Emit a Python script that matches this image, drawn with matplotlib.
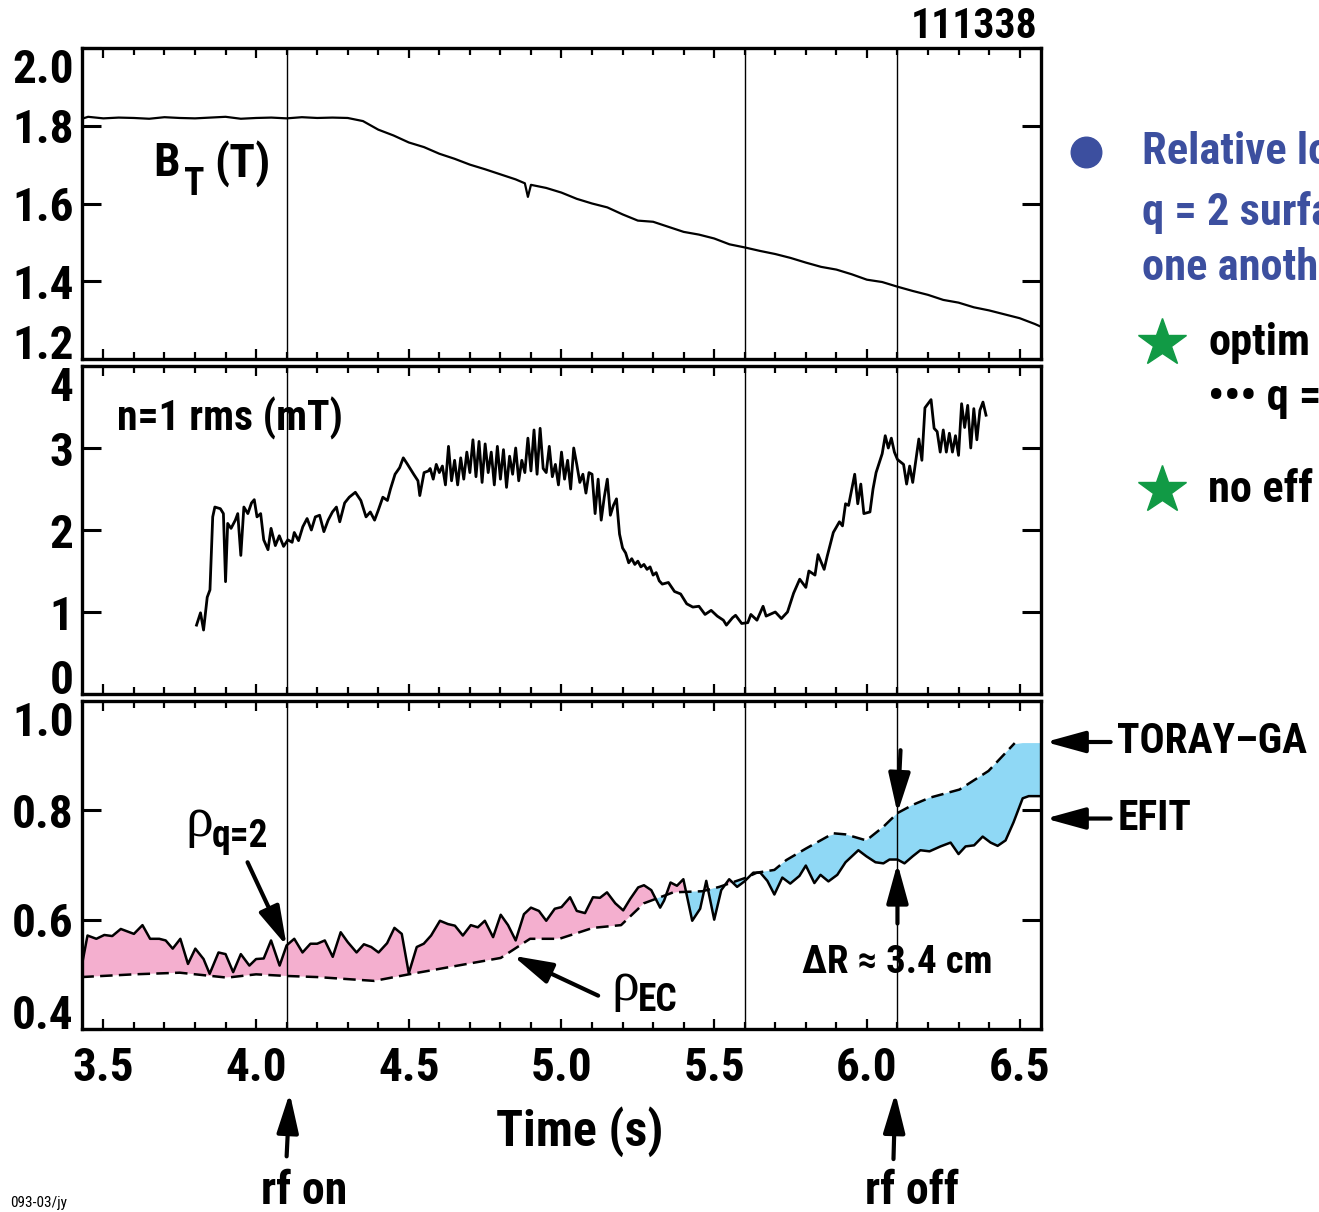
import numpy as np
import matplotlib
matplotlib.use('Agg')
from matplotlib import pyplot as plt
from matplotlib import font_manager

# pick a condensed bold sans if one is installed, else plain Liberation Sans
prefer = [('LiberationSansNarrow-Bold', 1.0), ('RobotoCondensed-Bold', 1.0),
          ('NotoSans-CondensedBold', 0.95), ('OpenSans-CondensedBold', 0.95),
          ('DejaVuSansCondensed-Bold', 0.88)]
narrow, k = None, 0.86
for key, kk in prefer:
    for f in font_manager.fontManager.ttflist:
        if key in f.fname.replace(' ', ''):
            narrow, k = f, kk
            break
    if narrow is not None:
        break
if narrow is not None:
    plt.rcParams['font.family'] = [narrow.name, 'DejaVu Sans']
    plt.rcParams['font.stretch'] = narrow.stretch
else:
    plt.rcParams['font.family'] = ['Liberation Sans', 'DejaVu Sans']
plt.rcParams['font.weight'] = 'bold'

shot = '111338'
t_marks = [4.1, 5.6, 6.1]

# toroidal field B_T (T)
bt_t = [3.43, 3.45, 3.50, 3.55, 3.60, 3.65, 3.70, 3.75, 3.80, 3.85, 3.90, 3.95,
        4.00, 4.05, 4.10, 4.15, 4.20, 4.25, 4.30, 4.35, 4.40, 4.45, 4.50, 4.55,
        4.60, 4.65, 4.70, 4.75, 4.80, 4.85, 4.88, 4.89, 4.90, 4.95, 5.00, 5.05,
        5.10, 5.15, 5.20, 5.25, 5.30, 5.35, 5.40, 5.45, 5.50, 5.55, 5.60, 5.65,
        5.70, 5.75, 5.80, 5.85, 5.90, 5.95, 6.00, 6.05, 6.10, 6.15, 6.20, 6.25,
        6.30, 6.35, 6.40, 6.45, 6.50, 6.55, 6.57]
bt_v = [1.818, 1.823, 1.819, 1.821, 1.820, 1.818, 1.822, 1.820, 1.819, 1.821, 1.823, 1.818,
        1.820, 1.821, 1.819, 1.822, 1.820, 1.821, 1.820, 1.812, 1.790, 1.775, 1.757, 1.745,
        1.728, 1.715, 1.700, 1.688, 1.675, 1.662, 1.652, 1.617, 1.648, 1.640, 1.628, 1.612,
        1.600, 1.590, 1.572, 1.556, 1.553, 1.540, 1.527, 1.520, 1.510, 1.495, 1.487, 1.478,
        1.470, 1.460, 1.448, 1.437, 1.430, 1.418, 1.404, 1.398, 1.386, 1.375, 1.365, 1.352,
        1.345, 1.333, 1.325, 1.315, 1.305, 1.290, 1.283]

# n=1 rms amplitude (mT)
n1_t = [3.805, 3.818, 3.828, 3.840, 3.849, 3.858, 3.865, 3.883, 3.893, 3.900, 3.907, 3.918,
        3.932, 3.940, 3.950, 3.960, 3.973, 3.985, 3.994, 4.003, 4.015, 4.025, 4.039, 4.049,
        4.063, 4.076, 4.090, 4.104, 4.118, 4.125, 4.139, 4.153, 4.167, 4.181, 4.194, 4.208,
        4.222, 4.236, 4.250, 4.263, 4.274, 4.290, 4.305, 4.325, 4.343, 4.360, 4.374, 4.388,
        4.400, 4.415, 4.430, 4.440, 4.455, 4.470, 4.482, 4.496, 4.516, 4.530, 4.536, 4.550,
        4.564, 4.57, 4.58, 4.59, 4.60, 4.61, 4.62, 4.63, 4.64, 4.65, 4.66, 4.67, 4.68,
        4.69, 4.70, 4.71, 4.72, 4.73, 4.74, 4.75, 4.76, 4.77, 4.78, 4.79, 4.80, 4.81,
        4.82, 4.83, 4.84, 4.85, 4.86, 4.87, 4.88, 4.89, 4.90, 4.91, 4.92, 4.93, 4.94,
        4.95, 4.96, 4.97, 4.98, 4.99, 5.00, 5.01, 5.02, 5.03, 5.04, 5.05, 5.06, 5.07,
        5.08, 5.09, 5.10, 5.11, 5.12, 5.13, 5.14, 5.15, 5.16, 5.17, 5.18, 5.19, 5.20,
        5.21, 5.22, 5.23, 5.24, 5.25, 5.26, 5.27, 5.28, 5.29, 5.30, 5.31, 5.32, 5.33,
        5.35, 5.37, 5.39, 5.41, 5.43, 5.45, 5.47, 5.49, 5.51, 5.53, 5.54, 5.56, 5.57,
        5.59, 5.61, 5.62, 5.64, 5.66, 5.67, 5.70, 5.72, 5.74, 5.76, 5.78, 5.80, 5.81,
        5.83, 5.84, 5.86, 5.87, 5.89, 5.91, 5.92, 5.93, 5.94, 5.96, 5.97, 5.98, 5.99,
        6.01, 6.02, 6.03, 6.05, 6.06, 6.07, 6.08, 6.09, 6.10, 6.12, 6.13, 6.14, 6.15,
        6.17, 6.18, 6.19, 6.21, 6.22, 6.23, 6.24, 6.25, 6.26, 6.27, 6.28, 6.29, 6.30,
        6.31, 6.32, 6.33, 6.34, 6.35, 6.36, 6.37, 6.38, 6.39]
n1_v = [0.84, 0.99, 0.78, 1.18, 1.27, 2.16, 2.28, 2.26, 2.20, 1.37, 2.08, 2.02,
        2.12, 2.20, 1.69, 2.28, 2.20, 2.33, 2.37, 2.16, 2.20, 1.88, 1.76, 2.02,
        1.81, 1.93, 1.80, 1.88, 1.85, 1.97, 1.87, 2.04, 2.14, 2.00, 2.16, 2.18,
        1.98, 2.12, 2.22, 2.28, 2.10, 2.33, 2.40, 2.46, 2.36, 2.16, 2.22, 2.12,
        2.24, 2.40, 2.36, 2.50, 2.68, 2.76, 2.88, 2.80, 2.68, 2.60, 2.42, 2.70,
        2.72, 2.75, 2.62, 2.80, 2.70, 2.78, 2.55, 3.02, 2.60, 2.85, 2.55, 2.88, 2.62,
        2.95, 2.70, 3.10, 2.65, 3.08, 2.58, 3.05, 2.70, 2.95, 2.55, 3.02, 2.62, 2.98,
        2.52, 2.90, 2.68, 3.00, 2.60, 2.85, 2.70, 3.12, 2.72, 3.22, 2.68, 3.24, 2.75,
        2.70, 3.02, 2.65, 2.80, 2.55, 2.95, 2.62, 2.85, 2.50, 3.00, 2.80, 2.58, 2.68,
        2.45, 2.70, 2.68, 2.20, 2.62, 2.12, 2.40, 2.62, 2.18, 2.30, 2.38, 1.95, 1.78,
        1.72, 1.60, 1.65, 1.58, 1.62, 1.55, 1.58, 1.52, 1.55, 1.45, 1.48, 1.38, 1.34,
        1.36, 1.25, 1.22, 1.10, 1.06, 1.07, 0.97, 1.02, 0.95, 0.90, 0.84, 0.93, 0.96,
        0.86, 0.87, 0.97, 0.90, 1.07, 0.95, 1.00, 0.92, 1.00, 1.23, 1.40, 1.30, 1.50,
        1.45, 1.70, 1.52, 1.68, 1.97, 2.10, 2.05, 2.32, 2.30, 2.68, 2.32, 2.56, 2.20,
        2.22, 2.50, 2.70, 2.93, 3.15, 3.00, 3.12, 2.95, 2.86, 2.80, 2.56, 2.78, 2.58,
        3.11, 2.85, 3.49, 3.59, 3.24, 3.20, 2.95, 3.22, 2.95, 3.18, 2.95, 3.15, 2.91,
        3.54, 3.25, 3.52, 3.00, 3.48, 3.10, 3.46, 3.56, 3.40]

# rho of q=2 surface (EFIT, solid)
efit_t = [3.428, 3.448, 3.477, 3.503, 3.529, 3.557, 3.600, 3.628, 3.653, 3.683, 3.704, 3.727,
          3.752, 3.777, 3.801, 3.828, 3.848, 3.877, 3.900, 3.925, 3.950, 3.978, 4.000, 4.025,
          4.049, 4.077, 4.100, 4.125, 4.152, 4.178, 4.200, 4.225, 4.251, 4.277, 4.300, 4.329,
          4.353, 4.377, 4.401, 4.429, 4.453, 4.477, 4.500, 4.526, 4.549, 4.573, 4.602, 4.628,
          4.651, 4.677, 4.703, 4.726, 4.749, 4.776, 4.801, 4.825, 4.850, 4.877, 4.900, 4.926,
          4.950, 4.978, 5.000, 5.028, 5.050, 5.077, 5.103, 5.126, 5.149, 5.176, 5.202, 5.225,
          5.251, 5.270, 5.294, 5.323, 5.336, 5.357, 5.378, 5.399, 5.428, 5.454, 5.474, 5.500,
          5.523, 5.549, 5.575, 5.599, 5.628, 5.651, 5.674, 5.697, 5.723, 5.749, 5.779, 5.800,
          5.828, 5.848, 5.874, 5.903, 5.930, 5.972, 5.998, 6.028, 6.054, 6.074, 6.100, 6.123,
          6.150, 6.175, 6.205, 6.241, 6.274, 6.300, 6.323, 6.351, 6.379, 6.405, 6.428, 6.454,
          6.480, 6.510, 6.530, 6.572]
efit_v = [0.512, 0.571, 0.565, 0.572, 0.570, 0.583, 0.574, 0.590, 0.565, 0.565, 0.562, 0.547,
          0.565, 0.519, 0.547, 0.528, 0.501, 0.540, 0.537, 0.504, 0.537, 0.516, 0.528, 0.529,
          0.562, 0.516, 0.553, 0.565, 0.540, 0.556, 0.556, 0.562, 0.532, 0.577, 0.559, 0.540,
          0.555, 0.550, 0.540, 0.557, 0.585, 0.574, 0.502, 0.550, 0.556, 0.571, 0.598, 0.592,
          0.589, 0.571, 0.590, 0.586, 0.598, 0.568, 0.609, 0.590, 0.562, 0.610, 0.622, 0.616,
          0.598, 0.620, 0.623, 0.641, 0.616, 0.612, 0.641, 0.640, 0.650, 0.630, 0.617, 0.638,
          0.659, 0.663, 0.654, 0.622, 0.635, 0.668, 0.662, 0.674, 0.598, 0.620, 0.671, 0.600,
          0.654, 0.674, 0.660, 0.670, 0.686, 0.686, 0.671, 0.646, 0.677, 0.666, 0.680, 0.699,
          0.667, 0.682, 0.670, 0.682, 0.705, 0.727, 0.716, 0.705, 0.703, 0.710, 0.710, 0.703,
          0.716, 0.727, 0.725, 0.734, 0.741, 0.720, 0.734, 0.736, 0.752, 0.741, 0.735, 0.745,
          0.778, 0.822, 0.826, 0.826]

# rho of ECCD deposition (TORAY-GA, dashed)
toray_t = [3.428, 3.600, 3.750, 3.905, 4.000, 4.100, 4.200, 4.387, 4.500, 4.801, 4.897, 4.993,
           5.103, 5.195, 5.270, 5.366, 5.461, 5.517, 5.600, 5.640, 5.697, 5.736, 5.800, 5.890,
           5.930, 5.998, 6.054, 6.100, 6.150, 6.205, 6.303, 6.398, 6.484, 6.572]
toray_v = [0.495, 0.500, 0.503, 0.494, 0.500, 0.497, 0.495, 0.488, 0.500, 0.530, 0.565, 0.565,
           0.585, 0.590, 0.630, 0.650, 0.652, 0.660, 0.676, 0.686, 0.691, 0.709, 0.730, 0.758,
           0.756, 0.745, 0.770, 0.795, 0.810, 0.823, 0.838, 0.872, 0.923, 0.923]

pink = '#f4afcf'
sky = '#8fd8f5'
navy = '#3c4f9f'
green = '#119a45'
fs_tick = 34 * k

W, H = 1319, 1212
fig = plt.figure(figsize=(W / 100, H / 100), dpi=100)
x0, x1 = 82 / W, 1041 / W
ax1 = fig.add_axes([x0, 1 - 359 / H, x1 - x0, 311 / H])
ax2 = fig.add_axes([x0, 1 - 694 / H, x1 - x0, 328 / H])
ax3 = fig.add_axes([x0, 1 - 1029 / H, x1 - x0, 328 / H])

for ax in (ax1, ax2, ax3):
    ax.set_xlim(3.43, 6.57)
    ax.set_xticks(np.arange(3.5, 6.51, 0.5))
    ax.set_xticks(np.arange(3.5, 6.56, 0.1), minor=True)
    ax.tick_params(axis='x', which='both', direction='in', top=True, bottom=True,
                   width=1.6, labelbottom=False)
    ax.tick_params(axis='x', which='major', length=7)
    ax.tick_params(axis='x', which='minor', length=5)
    ax.tick_params(axis='y', which='major', direction='in', left=True, right=True,
                   length=14, width=2.2, labelsize=fs_tick, pad=6)
    for s in ax.spines.values():
        s.set_linewidth(2.4)
    for tm in t_marks:
        ax.axvline(tm, color='k', lw=1.0)

ax3.tick_params(axis='x', labelbottom=True, labelsize=fs_tick, pad=12)

ax1.set_ylim(1.2, 2.0)
ax1.set_yticks([1.2, 1.4, 1.6, 1.8, 2.0])
ax1.set_yticklabels(['1.2', '1.4', '1.6', '1.8', '2.0'])
ax2.set_ylim(0, 4)
ax2.set_yticks([0, 1, 2, 3, 4])
ax2.set_yticklabels(['0', '1', '2', '3', '4'])
ax3.set_ylim(0.4, 1.0)
ax3.set_yticks([0.4, 0.6, 0.8, 1.0])
ax3.set_yticklabels(['0.4', '0.6', '0.8', '1.0'])
for ax in (ax1, ax2, ax3):
    labs = ax.get_yticklabels()
    labs[0].set_va('baseline')
    labs[-1].set_va('top')

# panel 1
ax1.plot(bt_t, bt_v, color='k', lw=1.6)
ax1.text(3.662, 1.703, 'B', fontsize=34 * k, ha='left', va='center')
ax1.text(3.764, 1.650, 'T', fontsize=27 * k, ha='left', va='center')
ax1.text(3.864, 1.703, '(T)', fontsize=34 * k, ha='left', va='center')

# panel 2
ax2.plot(n1_t, n1_v, color='k', lw=2.0)
ax2.text(3.546, 3.366, 'n=1 rms (mT)', fontsize=30 * k, ha='left', va='center')

# panel 3
tor_on_efit = np.interp(efit_t, toray_t, toray_v)
ax3.fill_between(efit_t, efit_v, tor_on_efit, where=np.array(efit_v) >= tor_on_efit,
                 interpolate=True, color=pink, lw=0)
ax3.fill_between(efit_t, efit_v, tor_on_efit, where=np.array(efit_v) <= tor_on_efit,
                 interpolate=True, color=sky, lw=0)
ax3.plot(efit_t, efit_v, color='k', lw=1.8)
ax3.plot(toray_t[:-1], toray_v[:-1], color='k', lw=1.8, ls=(0, (5, 2.5)))

arrow = dict(arrowstyle='-|>,head_length=0.8,head_width=0.22', color='k', lw=3,
             mutation_scale=30, shrinkA=0, shrinkB=0)
ax3.annotate('', xy=(4.1, 0.552), xytext=(3.972, 0.705), arrowprops=arrow)
ax3.annotate('', xy=(4.841, 0.534), xytext=(5.12, 0.461), arrowprops=arrow)
ax3.annotate('', xy=(6.1, 0.795), xytext=(6.11, 0.91), arrowprops=arrow)
ax3.annotate('', xy=(6.1, 0.703), xytext=(6.1, 0.593), arrowprops=arrow)
ax3.annotate('', xy=(6.585, 0.925), xytext=(6.798, 0.925), arrowprops=arrow,
             annotation_clip=False)
ax3.annotate('', xy=(6.585, 0.785), xytext=(6.798, 0.785), arrowprops=arrow,
             annotation_clip=False)
ax3.annotate('', xy=(4.11, 0.283), xytext=(4.1, 0.167), arrowprops=arrow,
             annotation_clip=False)
ax3.annotate('', xy=(6.093, 0.283), xytext=(6.087, 0.162), arrowprops=arrow,
             annotation_clip=False)

serif = ['Liberation Serif', 'DejaVu Serif']
ax3.text(3.815, 0.778, '\u03c1', fontsize=40, fontweight='normal', family=serif,
         ha='center', va='center')
ax3.text(3.855, 0.752, 'q=2', fontsize=27 * k, ha='left', va='center')
ax3.text(5.208, 0.479, '\u03c1', fontsize=40, fontweight='normal', family=serif,
         ha='center', va='center')
ax3.text(5.250, 0.453, 'EC', fontsize=27 * k, ha='left', va='center')
ax3.text(6.1, 0.521, '\u0394R \u2248 3.4 cm', fontsize=28 * k, ha='center', va='center')
ax3.text(6.82, 0.925, 'TORAY\u2013GA', fontsize=30 * k, ha='left', va='center', clip_on=False)
ax3.text(6.82, 0.785, 'EFIT', fontsize=30 * k, ha='left', va='center', clip_on=False)
ax3.text(5.061, 0.213, 'Time (s)', fontsize=36 * k, ha='center', va='center', clip_on=False)
ax3.text(4.157, 0.080, 'rf on', fontsize=33 * k, ha='center', va='baseline', clip_on=False)
ax3.text(6.149, 0.080, 'rf off', fontsize=33 * k, ha='center', va='baseline', clip_on=False)

# figure annotations
fig.text(1038 / W, 1 - 27 / H, shot, fontsize=30 * k, ha='right', va='center')
fig.text(10 / W, 1 - 1203 / H, '093-03/jy', fontsize=11, fontweight='normal',
         ha='left', va='center')

fig.add_artist(plt.Line2D([1086 / W], [1 - 152 / H], marker='o', ms=22, color=navy,
                          transform=fig.transFigure))
for yy, line in zip([152, 212, 268], ['Relative lo', 'q = 2 surfa', 'one anoth']):
    fig.text(1142 / W, 1 - yy / H, line, fontsize=32 * k, color=navy, ha='left', va='center')
for yy in (343, 490):
    fig.add_artist(plt.Line2D([1162 / W], [1 - yy / H], marker='*', ms=36, color=green,
                              transform=fig.transFigure))
fig.text(1208 / W, 1 - 343 / H, 'optim', fontsize=32 * k, ha='left', va='center')
fig.text(1208 / W, 1 - 398 / H, '\u2022\u2022\u2022 q =', fontsize=32 * k, ha='left', va='center')
fig.text(1208 / W, 1 - 490 / H, 'no eff', fontsize=32 * k, ha='left', va='center')

fig.savefig('out.png', dpi=100)
